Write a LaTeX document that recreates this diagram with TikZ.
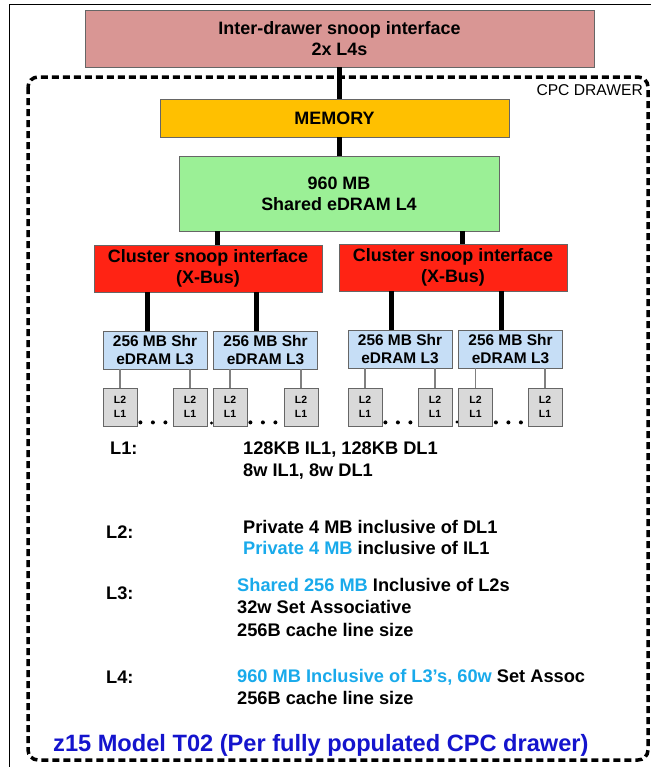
\documentclass[tikz,border=0pt]{standalone}
\usepackage{fontspec}
\setmainfont{Liberation Sans}
\usepackage{tikz}
\usetikzlibrary{positioning,calc}

\definecolor{interpink}{RGB}{217,150,148}
\definecolor{memgold}{RGB}{255,192,0}
\definecolor{edramgreen}{RGB}{155,240,150}
\definecolor{xbusred}{RGB}{255,35,20}
\definecolor{l3blue}{RGB}{198,222,246}
\definecolor{coregray}{RGB}{217,217,217}
\definecolor{cyanblue}{RGB}{25,170,235}
\definecolor{titleblue}{RGB}{20,20,205}

\begin{document}
\begin{tikzpicture}[x=1bp, y=-1bp,
    box/.style={draw=black!60, line width=0.8bp, inner sep=0pt, align=center, font=\bfseries\fontsize{18}{21}\selectfont},
    l3box/.style={box, fill=l3blue, minimum width=104bp, minimum height=38bp, font=\bfseries\fontsize{15.5}{18.5}\selectfont},
    core/.style={box, fill=coregray, minimum width=34bp, minimum height=38bp, font=\bfseries\fontsize{10.5}{14}\selectfont},
    bus/.style={line width=5bp},
    lnk/.style={draw=black!50, line width=1.3bp},
    row/.style={anchor=base west, inner sep=0pt, font=\bfseries\fontsize{18.3}{22}\selectfont}
]
\useasboundingbox[fill=white] (0,0) rectangle (651,767);
\draw[line width=1bp] (9,767) -- (9,5) -- (651,5);
% drawer outline
\draw[line width=3.5bp, dash pattern=on 7bp off 4bp, rounded corners=10bp] (28,77) rectangle (648,760);
\node[anchor=base east, inner sep=0pt, font=\fontsize{15.7}{18}\selectfont] (cpc) at (643,95) {CPC DRAWER};

\node[box, fill=interpink, minimum width=509bp, minimum height=57bp] (inter) at (339.5,38.5) {Inter-drawer snoop interface\\2x L4s};
\node[box, fill=memgold, minimum width=349bp, minimum height=38bp] (mem) at (334.5,118) {MEMORY};
\node[box, fill=edramgreen, minimum width=320bp, minimum height=75bp] (l4) at (339,193.5) {960 MB\\Shared eDRAM L4};
\node[box, fill=xbusred, minimum width=228bp, minimum height=47bp] (xbusA) at (208,268.5) {Cluster snoop interface\\(X-Bus)};
\node[box, fill=xbusred, minimum width=228bp, minimum height=47bp] (xbusB) at (453,267.5) {Cluster snoop interface\\(X-Bus)};

\node[l3box] (l3a) at (155,350) {256 MB Shr\\eDRAM L3};
\node[l3box] (l3b) at (265.5,350) {256 MB Shr\\eDRAM L3};
\node[l3box] (l3c) at (400,349) {256 MB Shr\\eDRAM L3};
\node[l3box] (l3d) at (510.5,349) {256 MB Shr\\eDRAM L3};

% dots partly behind the cores
\fill (211.5,423) circle (1.6bp);
\fill (457,422) circle (1.6bp);

\node[core] (coreA1) at (120,407) {L2\\L1};
\node[core] (coreA2) at (190,407) {L2\\L1};
\node[core] (coreB1) at (230,407) {L2\\L1};
\node[core] (coreB2) at (301,407) {L2\\L1};
\node[core] (coreC1) at (365,407) {L2\\L1};
\node[core] (coreC2) at (435,407) {L2\\L1};
\node[core] (coreD1) at (475.5,407) {L2\\L1};
\node[core] (coreD2) at (545,407) {L2\\L1};

\foreach \c in {coreA1,coreB1,coreC1,coreD1}
  \foreach \k in {0,1,2}
    \fill ([xshift={3bp+12.5bp*\k}, yshift=4bp]\c.south east) circle (2bp);

\draw[bus] (inter.south) -- (mem.north -| inter.south);
\draw[bus] (mem.south -| l4.north) -- (l4.north);
\draw[bus] ([xshift=9bp]xbusA.north) -- ([xshift=9bp]xbusA.north |- l4.south);
\draw[bus] ([xshift=9bp]xbusB.north) -- ([xshift=9bp]xbusB.north |- l4.south);
\draw[bus] ([xshift=-8bp]l3a.north) -- ([xshift=-8bp]l3a.north |- xbusA.south);
\draw[bus] ([xshift=-9.5bp]l3b.north) -- ([xshift=-9.5bp]l3b.north |- xbusA.south);
\draw[bus] ([xshift=-9bp]l3c.north) -- ([xshift=-9bp]l3c.north |- xbusB.south);
\draw[bus] ([xshift=-9.5bp]l3d.north) -- ([xshift=-9.5bp]l3d.north |- xbusB.south);

\draw[lnk] (coreA1.north) -- (coreA1.north |- l3a.south);
\draw[lnk] (coreA2.north) -- (coreA2.north |- l3a.south);
\draw[lnk] (coreB1.north) -- (coreB1.north |- l3b.south);
\draw[lnk] (coreB2.north) -- (coreB2.north |- l3b.south);
\draw[lnk] (coreC1.north) -- (coreC1.north |- l3c.south);
\draw[lnk] (coreC2.north) -- (coreC2.north |- l3c.south);
\draw[lnk] (coreD1.north) -- (coreD1.north |- l3d.south);
\draw[lnk] (coreD2.north) -- (coreD2.north |- l3d.south);

% cache levels
\node[row] (lvl1) at (110,454) {L1:};
\node[row] (txt1a) at (243,454) {128KB IL1, 128KB DL1};
\node[row] (txt1b) at (243,476) {8w IL1, 8w DL1};
\node[row] (lvl2) at (106,538) {L2:};
\node[row] (txt2a) at (243,533) {Private 4 MB inclusive of DL1};
\node[row] (txt2b) at (243,554) {\textcolor{cyanblue}{Private 4 MB} inclusive of IL1};
\node[row] (lvl3) at (106,599) {L3:};
\node[row] (txt3a) at (237,591) {\textcolor{cyanblue}{Shared 256 MB} Inclusive of L2s};
\node[row] (txt3b) at (237,613) {32w Set Associative};
\node[row] (txt3c) at (237,636) {256B cache line size};
\node[row] (lvl4) at (106,683) {L4:};
\node[row] (txt4a) at (237,682) {\textcolor{cyanblue}{960 MB Inclusive of L3's, 60w} Set Assoc};
\node[row] (txt4b) at (237,704) {256B cache line size};

\node[anchor=base west, inner sep=0pt, text=titleblue, font=\bfseries\fontsize{23.7}{28}\selectfont] (title) at (53,751) {z15 Model T02 (Per fully populated CPC drawer)};
\end{tikzpicture}
\end{document}
